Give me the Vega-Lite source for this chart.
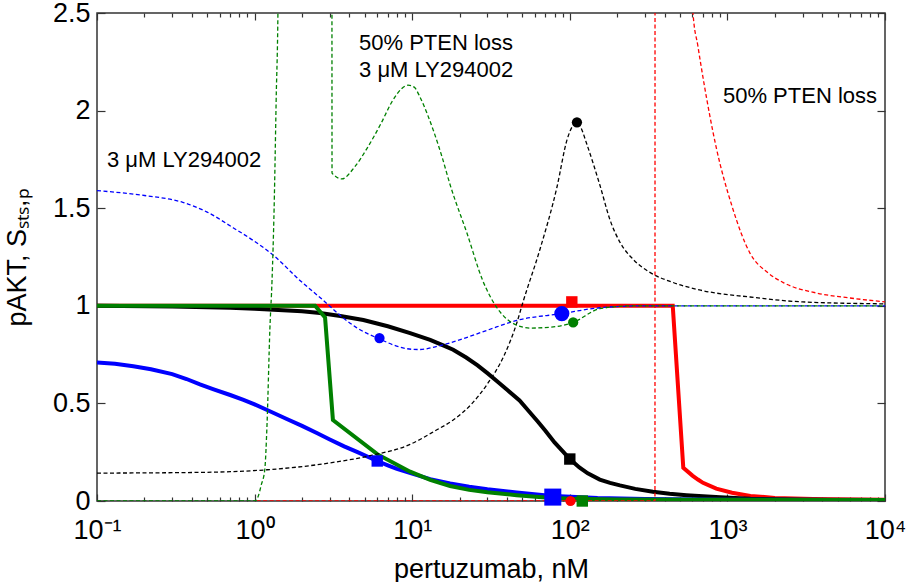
{
  "$schema": "https://vega.github.io/schema/vega-lite/v6.json",
  "width": 788,
  "height": 488,
  "autosize": {"type": "none"},
  "padding": {"left": 97, "top": 13, "right": 24, "bottom": 81},
  "background": "white",
  "datasets": {
    "curves": [
      {"quantity": "pAKT", "condition": "PTEN loss", "pertuzumab": 0.1, "value": 1.0},
      {"quantity": "pAKT", "condition": "PTEN loss", "pertuzumab": 450, "value": 1.0},
      {"quantity": "pAKT", "condition": "PTEN loss", "pertuzumab": 525, "value": 0.17},
      {"quantity": "pAKT", "condition": "PTEN loss", "pertuzumab": 600, "value": 0.13},
      {"quantity": "pAKT", "condition": "PTEN loss", "pertuzumab": 650, "value": 0.11},
      {"quantity": "pAKT", "condition": "PTEN loss", "pertuzumab": 700, "value": 0.093},
      {"quantity": "pAKT", "condition": "PTEN loss", "pertuzumab": 850, "value": 0.063},
      {"quantity": "pAKT", "condition": "PTEN loss", "pertuzumab": 1070, "value": 0.042},
      {"quantity": "pAKT", "condition": "PTEN loss", "pertuzumab": 1400, "value": 0.026},
      {"quantity": "pAKT", "condition": "PTEN loss", "pertuzumab": 2000, "value": 0.016},
      {"quantity": "pAKT", "condition": "PTEN loss", "pertuzumab": 3500, "value": 0.01},
      {"quantity": "pAKT", "condition": "PTEN loss", "pertuzumab": 10000, "value": 0.006},

      {"quantity": "pAKT", "condition": "control", "pertuzumab": 0.1, "value": 1.0},
      {"quantity": "pAKT", "condition": "control", "pertuzumab": 0.3, "value": 0.997},
      {"quantity": "pAKT", "condition": "control", "pertuzumab": 0.7, "value": 0.99},
      {"quantity": "pAKT", "condition": "control", "pertuzumab": 1, "value": 0.985},
      {"quantity": "pAKT", "condition": "control", "pertuzumab": 2, "value": 0.972},
      {"quantity": "pAKT", "condition": "control", "pertuzumab": 2.6, "value": 0.963},
      {"quantity": "pAKT", "condition": "control", "pertuzumab": 3.5, "value": 0.948},
      {"quantity": "pAKT", "condition": "control", "pertuzumab": 4.9, "value": 0.927},
      {"quantity": "pAKT", "condition": "control", "pertuzumab": 7, "value": 0.895},
      {"quantity": "pAKT", "condition": "control", "pertuzumab": 9.7, "value": 0.86},
      {"quantity": "pAKT", "condition": "control", "pertuzumab": 13, "value": 0.825},
      {"quantity": "pAKT", "condition": "control", "pertuzumab": 16, "value": 0.795},
      {"quantity": "pAKT", "condition": "control", "pertuzumab": 18.2, "value": 0.775},
      {"quantity": "pAKT", "condition": "control", "pertuzumab": 22, "value": 0.735},
      {"quantity": "pAKT", "condition": "control", "pertuzumab": 26, "value": 0.695},
      {"quantity": "pAKT", "condition": "control", "pertuzumab": 30, "value": 0.655},
      {"quantity": "pAKT", "condition": "control", "pertuzumab": 35, "value": 0.61},
      {"quantity": "pAKT", "condition": "control", "pertuzumab": 40, "value": 0.57},
      {"quantity": "pAKT", "condition": "control", "pertuzumab": 48, "value": 0.515},
      {"quantity": "pAKT", "condition": "control", "pertuzumab": 55, "value": 0.46},
      {"quantity": "pAKT", "condition": "control", "pertuzumab": 63, "value": 0.405},
      {"quantity": "pAKT", "condition": "control", "pertuzumab": 70, "value": 0.36},
      {"quantity": "pAKT", "condition": "control", "pertuzumab": 80, "value": 0.3},
      {"quantity": "pAKT", "condition": "control", "pertuzumab": 90, "value": 0.255},
      {"quantity": "pAKT", "condition": "control", "pertuzumab": 100, "value": 0.215},
      {"quantity": "pAKT", "condition": "control", "pertuzumab": 115, "value": 0.172},
      {"quantity": "pAKT", "condition": "control", "pertuzumab": 130, "value": 0.142},
      {"quantity": "pAKT", "condition": "control", "pertuzumab": 155, "value": 0.11},
      {"quantity": "pAKT", "condition": "control", "pertuzumab": 180, "value": 0.093},
      {"quantity": "pAKT", "condition": "control", "pertuzumab": 208, "value": 0.08},
      {"quantity": "pAKT", "condition": "control", "pertuzumab": 260, "value": 0.062},
      {"quantity": "pAKT", "condition": "control", "pertuzumab": 337, "value": 0.047},
      {"quantity": "pAKT", "condition": "control", "pertuzumab": 430, "value": 0.037},
      {"quantity": "pAKT", "condition": "control", "pertuzumab": 550, "value": 0.03},
      {"quantity": "pAKT", "condition": "control", "pertuzumab": 700, "value": 0.024},
      {"quantity": "pAKT", "condition": "control", "pertuzumab": 900, "value": 0.019},
      {"quantity": "pAKT", "condition": "control", "pertuzumab": 1400, "value": 0.012},
      {"quantity": "pAKT", "condition": "control", "pertuzumab": 3000, "value": 0.006},
      {"quantity": "pAKT", "condition": "control", "pertuzumab": 10000, "value": 0.003},

      {"quantity": "pAKT", "condition": "LY294002", "pertuzumab": 0.1, "value": 0.71},
      {"quantity": "pAKT", "condition": "LY294002", "pertuzumab": 0.13, "value": 0.703},
      {"quantity": "pAKT", "condition": "LY294002", "pertuzumab": 0.17, "value": 0.69},
      {"quantity": "pAKT", "condition": "LY294002", "pertuzumab": 0.22, "value": 0.675},
      {"quantity": "pAKT", "condition": "LY294002", "pertuzumab": 0.3, "value": 0.65},
      {"quantity": "pAKT", "condition": "LY294002", "pertuzumab": 0.37, "value": 0.625},
      {"quantity": "pAKT", "condition": "LY294002", "pertuzumab": 0.45, "value": 0.597},
      {"quantity": "pAKT", "condition": "LY294002", "pertuzumab": 0.55, "value": 0.572},
      {"quantity": "pAKT", "condition": "LY294002", "pertuzumab": 0.7, "value": 0.543},
      {"quantity": "pAKT", "condition": "LY294002", "pertuzumab": 0.85, "value": 0.518},
      {"quantity": "pAKT", "condition": "LY294002", "pertuzumab": 1.0, "value": 0.495},
      {"quantity": "pAKT", "condition": "LY294002", "pertuzumab": 1.25, "value": 0.46},
      {"quantity": "pAKT", "condition": "LY294002", "pertuzumab": 1.6, "value": 0.42},
      {"quantity": "pAKT", "condition": "LY294002", "pertuzumab": 2, "value": 0.385},
      {"quantity": "pAKT", "condition": "LY294002", "pertuzumab": 2.5, "value": 0.347},
      {"quantity": "pAKT", "condition": "LY294002", "pertuzumab": 3, "value": 0.315},
      {"quantity": "pAKT", "condition": "LY294002", "pertuzumab": 3.7, "value": 0.28},
      {"quantity": "pAKT", "condition": "LY294002", "pertuzumab": 4.5, "value": 0.25},
      {"quantity": "pAKT", "condition": "LY294002", "pertuzumab": 6, "value": 0.205},
      {"quantity": "pAKT", "condition": "LY294002", "pertuzumab": 7, "value": 0.183},
      {"quantity": "pAKT", "condition": "LY294002", "pertuzumab": 8, "value": 0.165},
      {"quantity": "pAKT", "condition": "LY294002", "pertuzumab": 10, "value": 0.14},
      {"quantity": "pAKT", "condition": "LY294002", "pertuzumab": 13, "value": 0.112},
      {"quantity": "pAKT", "condition": "LY294002", "pertuzumab": 17.4, "value": 0.09},
      {"quantity": "pAKT", "condition": "LY294002", "pertuzumab": 23, "value": 0.073},
      {"quantity": "pAKT", "condition": "LY294002", "pertuzumab": 30, "value": 0.06},
      {"quantity": "pAKT", "condition": "LY294002", "pertuzumab": 46, "value": 0.043},
      {"quantity": "pAKT", "condition": "LY294002", "pertuzumab": 80, "value": 0.025},
      {"quantity": "pAKT", "condition": "LY294002", "pertuzumab": 150, "value": 0.015},
      {"quantity": "pAKT", "condition": "LY294002", "pertuzumab": 300, "value": 0.01},
      {"quantity": "pAKT", "condition": "LY294002", "pertuzumab": 1000, "value": 0.006},
      {"quantity": "pAKT", "condition": "LY294002", "pertuzumab": 10000, "value": 0.005},

      {"quantity": "pAKT", "condition": "PTEN loss + LY294002", "pertuzumab": 0.1, "value": 1.0},
      {"quantity": "pAKT", "condition": "PTEN loss + LY294002", "pertuzumab": 2.42, "value": 1.0},
      {"quantity": "pAKT", "condition": "PTEN loss + LY294002", "pertuzumab": 2.8, "value": 0.94},
      {"quantity": "pAKT", "condition": "PTEN loss + LY294002", "pertuzumab": 3.14, "value": 0.415},
      {"quantity": "pAKT", "condition": "PTEN loss + LY294002", "pertuzumab": 6, "value": 0.24},
      {"quantity": "pAKT", "condition": "PTEN loss + LY294002", "pertuzumab": 9.7, "value": 0.15},
      {"quantity": "pAKT", "condition": "PTEN loss + LY294002", "pertuzumab": 13, "value": 0.108},
      {"quantity": "pAKT", "condition": "PTEN loss + LY294002", "pertuzumab": 17.4, "value": 0.077},
      {"quantity": "pAKT", "condition": "PTEN loss + LY294002", "pertuzumab": 23, "value": 0.057},
      {"quantity": "pAKT", "condition": "PTEN loss + LY294002", "pertuzumab": 30, "value": 0.045},
      {"quantity": "pAKT", "condition": "PTEN loss + LY294002", "pertuzumab": 46, "value": 0.03},
      {"quantity": "pAKT", "condition": "PTEN loss + LY294002", "pertuzumab": 70, "value": 0.018},
      {"quantity": "pAKT", "condition": "PTEN loss + LY294002", "pertuzumab": 100, "value": 0.012},
      {"quantity": "pAKT", "condition": "PTEN loss + LY294002", "pertuzumab": 200, "value": 0.008},
      {"quantity": "pAKT", "condition": "PTEN loss + LY294002", "pertuzumab": 1000, "value": 0.006},
      {"quantity": "pAKT", "condition": "PTEN loss + LY294002", "pertuzumab": 10000, "value": 0.005},

      {"quantity": "S_STS,p", "condition": "control", "pertuzumab": 0.1, "value": 0.143},
      {"quantity": "S_STS,p", "condition": "control", "pertuzumab": 0.3, "value": 0.145},
      {"quantity": "S_STS,p", "condition": "control", "pertuzumab": 0.7, "value": 0.15},
      {"quantity": "S_STS,p", "condition": "control", "pertuzumab": 1.2, "value": 0.16},
      {"quantity": "S_STS,p", "condition": "control", "pertuzumab": 3, "value": 0.195},
      {"quantity": "S_STS,p", "condition": "control", "pertuzumab": 5.6, "value": 0.235},
      {"quantity": "S_STS,p", "condition": "control", "pertuzumab": 9.7, "value": 0.29},
      {"quantity": "S_STS,p", "condition": "control", "pertuzumab": 11.2, "value": 0.315},
      {"quantity": "S_STS,p", "condition": "control", "pertuzumab": 14, "value": 0.36},
      {"quantity": "S_STS,p", "condition": "control", "pertuzumab": 18.2, "value": 0.415},
      {"quantity": "S_STS,p", "condition": "control", "pertuzumab": 24, "value": 0.5},
      {"quantity": "S_STS,p", "condition": "control", "pertuzumab": 30, "value": 0.6},
      {"quantity": "S_STS,p", "condition": "control", "pertuzumab": 38, "value": 0.74},
      {"quantity": "S_STS,p", "condition": "control", "pertuzumab": 46, "value": 0.91},
      {"quantity": "S_STS,p", "condition": "control", "pertuzumab": 50.5, "value": 1.02},
      {"quantity": "S_STS,p", "condition": "control", "pertuzumab": 64.7, "value": 1.29},
      {"quantity": "S_STS,p", "condition": "control", "pertuzumab": 83, "value": 1.61},
      {"quantity": "S_STS,p", "condition": "control", "pertuzumab": 96, "value": 1.85},
      {"quantity": "S_STS,p", "condition": "control", "pertuzumab": 104, "value": 1.92},
      {"quantity": "S_STS,p", "condition": "control", "pertuzumab": 111, "value": 1.94},
      {"quantity": "S_STS,p", "condition": "control", "pertuzumab": 118, "value": 1.91},
      {"quantity": "S_STS,p", "condition": "control", "pertuzumab": 128, "value": 1.83},
      {"quantity": "S_STS,p", "condition": "control", "pertuzumab": 155, "value": 1.62},
      {"quantity": "S_STS,p", "condition": "control", "pertuzumab": 180, "value": 1.44},
      {"quantity": "S_STS,p", "condition": "control", "pertuzumab": 210, "value": 1.32},
      {"quantity": "S_STS,p", "condition": "control", "pertuzumab": 251, "value": 1.24},
      {"quantity": "S_STS,p", "condition": "control", "pertuzumab": 324, "value": 1.17},
      {"quantity": "S_STS,p", "condition": "control", "pertuzumab": 450, "value": 1.12},
      {"quantity": "S_STS,p", "condition": "control", "pertuzumab": 676, "value": 1.08},
      {"quantity": "S_STS,p", "condition": "control", "pertuzumab": 1390, "value": 1.045},
      {"quantity": "S_STS,p", "condition": "control", "pertuzumab": 3000, "value": 1.02},
      {"quantity": "S_STS,p", "condition": "control", "pertuzumab": 10000, "value": 1.01},

      {"quantity": "S_STS,p", "condition": "PTEN loss", "pertuzumab": 1.03, "value": 0},
      {"quantity": "S_STS,p", "condition": "PTEN loss", "pertuzumab": 347, "value": 0},
      {"quantity": "S_STS,p", "condition": "PTEN loss", "pertuzumab": 348, "value": 10},
      {"quantity": "S_STS,p", "condition": "PTEN loss", "pertuzumab": 590, "value": 10},
      {"quantity": "S_STS,p", "condition": "PTEN loss", "pertuzumab": 605, "value": 2.5},
      {"quantity": "S_STS,p", "condition": "PTEN loss", "pertuzumab": 650, "value": 2.33},
      {"quantity": "S_STS,p", "condition": "PTEN loss", "pertuzumab": 700, "value": 2.17},
      {"quantity": "S_STS,p", "condition": "PTEN loss", "pertuzumab": 850, "value": 1.81},
      {"quantity": "S_STS,p", "condition": "PTEN loss", "pertuzumab": 1070, "value": 1.51},
      {"quantity": "S_STS,p", "condition": "PTEN loss", "pertuzumab": 1390, "value": 1.27},
      {"quantity": "S_STS,p", "condition": "PTEN loss", "pertuzumab": 1800, "value": 1.17},
      {"quantity": "S_STS,p", "condition": "PTEN loss", "pertuzumab": 2250, "value": 1.12},
      {"quantity": "S_STS,p", "condition": "PTEN loss", "pertuzumab": 3700, "value": 1.065},
      {"quantity": "S_STS,p", "condition": "PTEN loss", "pertuzumab": 6000, "value": 1.04},
      {"quantity": "S_STS,p", "condition": "PTEN loss", "pertuzumab": 10000, "value": 1.02},

      {"quantity": "S_STS,p", "condition": "LY294002", "pertuzumab": 0.1, "value": 1.59},
      {"quantity": "S_STS,p", "condition": "LY294002", "pertuzumab": 0.2, "value": 1.565},
      {"quantity": "S_STS,p", "condition": "LY294002", "pertuzumab": 0.35, "value": 1.53},
      {"quantity": "S_STS,p", "condition": "LY294002", "pertuzumab": 0.5, "value": 1.48},
      {"quantity": "S_STS,p", "condition": "LY294002", "pertuzumab": 0.73, "value": 1.4},
      {"quantity": "S_STS,p", "condition": "LY294002", "pertuzumab": 1.0, "value": 1.33},
      {"quantity": "S_STS,p", "condition": "LY294002", "pertuzumab": 1.31, "value": 1.26},
      {"quantity": "S_STS,p", "condition": "LY294002", "pertuzumab": 1.94, "value": 1.13},
      {"quantity": "S_STS,p", "condition": "LY294002", "pertuzumab": 2.8, "value": 1.02},
      {"quantity": "S_STS,p", "condition": "LY294002", "pertuzumab": 3.5, "value": 0.95},
      {"quantity": "S_STS,p", "condition": "LY294002", "pertuzumab": 4.5, "value": 0.885},
      {"quantity": "S_STS,p", "condition": "LY294002", "pertuzumab": 6.2, "value": 0.83},
      {"quantity": "S_STS,p", "condition": "LY294002", "pertuzumab": 8.4, "value": 0.788},
      {"quantity": "S_STS,p", "condition": "LY294002", "pertuzumab": 10, "value": 0.777},
      {"quantity": "S_STS,p", "condition": "LY294002", "pertuzumab": 11.2, "value": 0.776},
      {"quantity": "S_STS,p", "condition": "LY294002", "pertuzumab": 14, "value": 0.79},
      {"quantity": "S_STS,p", "condition": "LY294002", "pertuzumab": 18.2, "value": 0.815},
      {"quantity": "S_STS,p", "condition": "LY294002", "pertuzumab": 30, "value": 0.875},
      {"quantity": "S_STS,p", "condition": "LY294002", "pertuzumab": 46, "value": 0.925},
      {"quantity": "S_STS,p", "condition": "LY294002", "pertuzumab": 89, "value": 0.96},
      {"quantity": "S_STS,p", "condition": "LY294002", "pertuzumab": 155, "value": 0.99},
      {"quantity": "S_STS,p", "condition": "LY294002", "pertuzumab": 300, "value": 1.0},
      {"quantity": "S_STS,p", "condition": "LY294002", "pertuzumab": 10000, "value": 1.0},

      {"quantity": "S_STS,p", "condition": "PTEN loss + LY294002", "pertuzumab": 0.1, "value": 0},
      {"quantity": "S_STS,p", "condition": "PTEN loss + LY294002", "pertuzumab": 1.0, "value": 0},
      {"quantity": "S_STS,p", "condition": "PTEN loss + LY294002", "pertuzumab": 1.05, "value": 0.02},
      {"quantity": "S_STS,p", "condition": "PTEN loss + LY294002", "pertuzumab": 1.1, "value": 0.08},
      {"quantity": "S_STS,p", "condition": "PTEN loss + LY294002", "pertuzumab": 1.16, "value": 0.16},
      {"quantity": "S_STS,p", "condition": "PTEN loss + LY294002", "pertuzumab": 1.2, "value": 0.4},
      {"quantity": "S_STS,p", "condition": "PTEN loss + LY294002", "pertuzumab": 1.25, "value": 0.88},
      {"quantity": "S_STS,p", "condition": "PTEN loss + LY294002", "pertuzumab": 1.29, "value": 1.13},
      {"quantity": "S_STS,p", "condition": "PTEN loss + LY294002", "pertuzumab": 1.33, "value": 1.5},
      {"quantity": "S_STS,p", "condition": "PTEN loss + LY294002", "pertuzumab": 1.37, "value": 2.05},
      {"quantity": "S_STS,p", "condition": "PTEN loss + LY294002", "pertuzumab": 1.41, "value": 2.6},
      {"quantity": "S_STS,p", "condition": "PTEN loss + LY294002", "pertuzumab": 1.5, "value": 10},
      {"quantity": "S_STS,p", "condition": "PTEN loss + LY294002", "pertuzumab": 3.08, "value": 10},
      {"quantity": "S_STS,p", "condition": "PTEN loss + LY294002", "pertuzumab": 3.1, "value": 1.68},
      {"quantity": "S_STS,p", "condition": "PTEN loss + LY294002", "pertuzumab": 3.58, "value": 1.65},
      {"quantity": "S_STS,p", "condition": "PTEN loss + LY294002", "pertuzumab": 4.3, "value": 1.71},
      {"quantity": "S_STS,p", "condition": "PTEN loss + LY294002", "pertuzumab": 5.2, "value": 1.81},
      {"quantity": "S_STS,p", "condition": "PTEN loss + LY294002", "pertuzumab": 6.3, "value": 1.93},
      {"quantity": "S_STS,p", "condition": "PTEN loss + LY294002", "pertuzumab": 7.5, "value": 2.05},
      {"quantity": "S_STS,p", "condition": "PTEN loss + LY294002", "pertuzumab": 8.5, "value": 2.11},
      {"quantity": "S_STS,p", "condition": "PTEN loss + LY294002", "pertuzumab": 9.4, "value": 2.13},
      {"quantity": "S_STS,p", "condition": "PTEN loss + LY294002", "pertuzumab": 10.3, "value": 2.12},
      {"quantity": "S_STS,p", "condition": "PTEN loss + LY294002", "pertuzumab": 11.2, "value": 2.07},
      {"quantity": "S_STS,p", "condition": "PTEN loss + LY294002", "pertuzumab": 12.5, "value": 1.98},
      {"quantity": "S_STS,p", "condition": "PTEN loss + LY294002", "pertuzumab": 13.6, "value": 1.9},
      {"quantity": "S_STS,p", "condition": "PTEN loss + LY294002", "pertuzumab": 15.5, "value": 1.76},
      {"quantity": "S_STS,p", "condition": "PTEN loss + LY294002", "pertuzumab": 17.4, "value": 1.62},
      {"quantity": "S_STS,p", "condition": "PTEN loss + LY294002", "pertuzumab": 22.3, "value": 1.37},
      {"quantity": "S_STS,p", "condition": "PTEN loss + LY294002", "pertuzumab": 28, "value": 1.13},
      {"quantity": "S_STS,p", "condition": "PTEN loss + LY294002", "pertuzumab": 34.5, "value": 0.99},
      {"quantity": "S_STS,p", "condition": "PTEN loss + LY294002", "pertuzumab": 43.6, "value": 0.91},
      {"quantity": "S_STS,p", "condition": "PTEN loss + LY294002", "pertuzumab": 56, "value": 0.886},
      {"quantity": "S_STS,p", "condition": "PTEN loss + LY294002", "pertuzumab": 75, "value": 0.89},
      {"quantity": "S_STS,p", "condition": "PTEN loss + LY294002", "pertuzumab": 105, "value": 0.915},
      {"quantity": "S_STS,p", "condition": "PTEN loss + LY294002", "pertuzumab": 155, "value": 0.985},
      {"quantity": "S_STS,p", "condition": "PTEN loss + LY294002", "pertuzumab": 250, "value": 1.0},
      {"quantity": "S_STS,p", "condition": "PTEN loss + LY294002", "pertuzumab": 10000, "value": 1.0}
    ],
    "markers": [
      {"condition": "control", "marker": "circle", "large": false, "pertuzumab": 111, "value": 1.94},
      {"condition": "control", "marker": "square", "large": false, "pertuzumab": 100, "value": 0.215},
      {"condition": "LY294002", "marker": "circle", "large": false, "pertuzumab": 6.2, "value": 0.835},
      {"condition": "LY294002", "marker": "circle", "large": true, "pertuzumab": 89, "value": 0.96},
      {"condition": "LY294002", "marker": "square", "large": false, "pertuzumab": 6, "value": 0.205},
      {"condition": "LY294002", "marker": "square", "large": true, "pertuzumab": 78, "value": 0.02},
      {"condition": "PTEN loss + LY294002", "marker": "circle", "large": false, "pertuzumab": 105, "value": 0.915},
      {"condition": "PTEN loss + LY294002", "marker": "square", "large": false, "pertuzumab": 120, "value": 0.0},
      {"condition": "PTEN loss", "marker": "circle", "large": false, "pertuzumab": 101, "value": 0.0},
      {"condition": "PTEN loss", "marker": "square", "large": false, "pertuzumab": 103, "value": 1.02}
    ],
    "notes": [
      {"label": "3 μM LY294002", "pertuzumab": 0.1157, "value": 1.711},
      {"label": "50% PTEN loss", "pertuzumab": 4.6, "value": 2.31},
      {"label": "3 μM LY294002", "pertuzumab": 4.6, "value": 2.17},
      {"label": "50% PTEN loss", "pertuzumab": 937, "value": 2.04}
    ]
  },
  "layer": [
    {
      "data": {"name": "curves"},
      "transform": [{"filter": "datum.quantity === 'pAKT'"}],
      "mark": {"type": "line", "strokeWidth": 4, "clip": true},
      "encoding": {
        "x": {
          "field": "pertuzumab", "type": "quantitative",
          "scale": {"type": "log", "domain": [0.1, 10000], "nice": false},
          "axis": {
            "orient": "bottom", "values": [0.1, 1, 10, 100, 1000, 10000],
            "labelExpr": "datum.value < 0.5 ? '10⁻¹' : datum.value < 5 ? '10⁰' : datum.value < 50 ? '10¹' : datum.value < 500 ? '10²' : datum.value < 5000 ? '10³' : '10⁴'",
            "tickSize": -7, "labelPadding": 23,
            "title": "pertuzumab, nM", "titleY": 76, "titleBaseline": "alphabetic"
          }
        },
        "y": {
          "field": "value", "type": "quantitative",
          "scale": {"domain": [0, 2.5], "nice": false, "zero": false},
          "axis": {
            "orient": "left", "values": [0, 0.5, 1, 1.5, 2, 2.5], "format": "~g",
            "tickSize": -8, "labelPadding": 15,
            "title": "pAKT, Sₛₜₛ,ₚ", "titleX": -72, "titleBaseline": "alphabetic"
          }
        },
        "color": {
          "field": "condition", "type": "nominal",
          "scale": {"domain": ["control", "LY294002", "PTEN loss + LY294002", "PTEN loss"], "range": ["#000000", "#0000ff", "#008000", "#ff0000"]},
          "legend": null
        }
      }
    },
    {
      "data": {"name": "curves"},
      "transform": [{"filter": "datum.quantity === 'S_STS,p'"}],
      "mark": {"type": "line", "strokeWidth": 1.3, "strokeDash": [4, 2.5], "interpolate": "monotone", "clip": true},
      "encoding": {
        "x": {
          "field": "pertuzumab", "type": "quantitative",
          "scale": {"type": "log", "domain": [0.1, 10000], "nice": false},
          "axis": {
            "orient": "bottom",
            "values": [0.2, 0.3, 0.4, 0.5, 0.6, 0.7, 0.8, 0.9, 2, 3, 4, 5, 6, 7, 8, 9, 20, 30, 40, 50, 60, 70, 80, 90, 200, 300, 400, 500, 600, 700, 800, 900, 2000, 3000, 4000, 5000, 6000, 7000, 8000, 9000],
            "tickSize": -4, "labels": false, "title": null
          }
        },
        "y": {
          "field": "value", "type": "quantitative",
          "scale": {"domain": [0, 2.5], "nice": false, "zero": false},
          "axis": {"orient": "right", "values": [0, 0.5, 1, 1.5, 2, 2.5], "tickSize": -8, "labels": false, "title": null}
        },
        "color": {"field": "condition", "type": "nominal", "legend": null}
      }
    },
    {
      "data": {"name": "markers"},
      "mark": {"type": "point", "filled": true, "opacity": 1, "strokeWidth": 0},
      "encoding": {
        "x": {
          "field": "pertuzumab", "type": "quantitative",
          "scale": {"type": "log", "domain": [0.1, 10000], "nice": false},
          "axis": {"orient": "top", "values": [0.1, 1, 10, 100, 1000, 10000], "tickSize": -7, "labels": false, "title": null}
        },
        "y": {
          "field": "value", "type": "quantitative",
          "scale": {"domain": [0, 2.5], "nice": false, "zero": false},
          "axis": null
        },
        "color": {"field": "condition", "type": "nominal", "legend": null},
        "shape": {
          "field": "marker", "type": "nominal",
          "scale": {"domain": ["circle", "square"], "range": ["circle", "square"]},
          "legend": null
        },
        "size": {
          "condition": [
            {"test": "datum.large && datum.marker === 'square'", "value": 290},
            {"test": "datum.large", "value": 230},
            {"test": "datum.marker === 'square'", "value": 130}
          ],
          "value": 105
        }
      }
    },
    {
      "data": {"name": "notes"},
      "mark": {"type": "text", "align": "left", "baseline": "alphabetic", "fontSize": 22, "font": "Liberation Sans", "color": "#000000"},
      "encoding": {
        "x": {
          "field": "pertuzumab", "type": "quantitative",
          "scale": {"type": "log", "domain": [0.1, 10000], "nice": false},
          "axis": {
            "orient": "top",
            "values": [0.2, 0.3, 0.4, 0.5, 0.6, 0.7, 0.8, 0.9, 2, 3, 4, 5, 6, 7, 8, 9, 20, 30, 40, 50, 60, 70, 80, 90, 200, 300, 400, 500, 600, 700, 800, 900, 2000, 3000, 4000, 5000, 6000, 7000, 8000, 9000],
            "tickSize": -4, "labels": false, "title": null
          }
        },
        "y": {
          "field": "value", "type": "quantitative",
          "scale": {"domain": [0, 2.5], "nice": false, "zero": false},
          "axis": null
        },
        "text": {"field": "label"}
      }
    }
  ],
  "resolve": {"axis": {"x": "independent", "y": "independent"}},
  "config": {
    "view": {"stroke": "#333333", "strokeWidth": 1.5},
    "font": "Liberation Sans",
    "axis": {
      "domain": false, "grid": false,
      "tickColor": "#333333", "tickWidth": 1.2,
      "labelFont": "Liberation Sans", "labelFontSize": 27, "labelColor": "#000000",
      "labelFlush": false, "labelOverlap": false, "labelBound": false,
      "titleFont": "Liberation Sans", "titleFontSize": 27, "titleFontWeight": "normal", "titleColor": "#000000"
    }
  }
}
